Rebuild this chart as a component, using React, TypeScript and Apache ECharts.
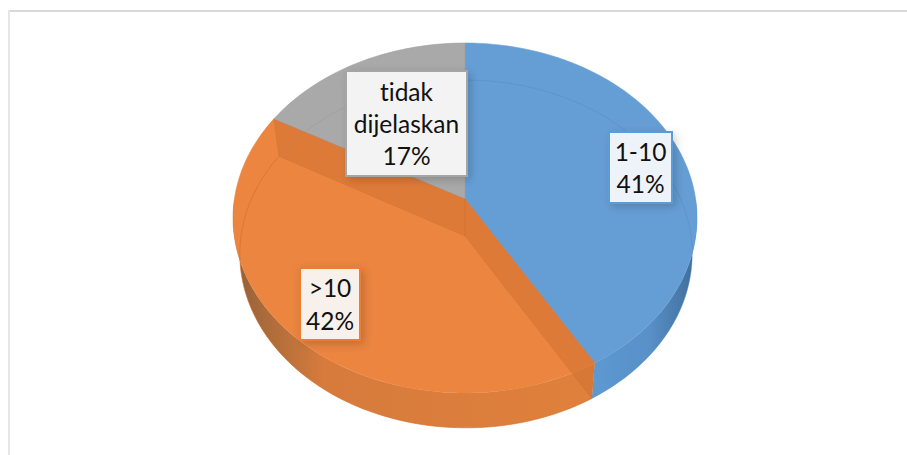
import React, { useEffect, useRef } from "react";
import * as echarts from "echarts";

const categories = ["1-10", ">10", "tidak dijelaskan"];
const sliceValues = [41.49, 41.61, 16.9];
const sliceColors = ["#659ED5", "#EB8540", "#A9A9A9"];
const labelLines = [["1-10"], [">10"], ["tidak", "dijelaskan"]];

const TOP = { cx: 465, cy: 199, rx: 230.6, ry: 172.9, k: 0.1086 };
const BOTTOM = { cx: 466, cy: 236, rx: 225, ry: 172, k: 0.1034 };
const LABEL_BOX = [
  { x: 609, y: 132, w: 63, h: 71, border: "#5B9BD5", fill: "#EEF3FA" },
  { x: 300, y: 268, w: 60, h: 72, border: "#ED7D31", fill: "#F8F0EB" },
  { x: 346, y: 71, w: 121, h: 105, border: "#A5A5A5", fill: "#F3F3F3" },
];
const LINE_H = 32.3;
const WALL_FILL = [
  [[0, "#5E99D2"], [0.55, "#5890C8"], [1, "#3F6C98"]],
  [[0, "#8F5E3A"], [0.08, "#A96A3A"], [0.25, "#D67B3C"], [1, "#E0803C"]],
  [[0, "#A5A5A5"], [1, "#A5A5A5"]],
];

type Face = typeof TOP;

// a point of the round face, angle clockwise from twelve o'clock, seen in perspective
function project(f: Face, deg: number, r = 1) {
  const a = (deg * Math.PI) / 180;
  const x = Math.sin(a) * r;
  const y = -Math.cos(a) * r;
  const w = 1 - f.k * y;
  return [f.cx + (f.rx * x) / w, f.cy + (f.ry * y) / w];
}
function arc(f: Face, from: number, to: number) {
  const n = Math.max(2, Math.ceil(Math.abs(to - from) / 2));
  const pts: number[][] = [];
  for (let i = 0; i <= n; i++) pts.push(project(f, from + ((to - from) * i) / n));
  return pts;
}

const total = sliceValues.reduce((a, b) => a + b, 0);
const spans = sliceValues.map((v, i) => {
  const start = sliceValues.slice(0, i).reduce((a, b) => a + b, 0);
  return [(start / total) * 360, ((start + v) / total) * 360];
});

function renderSlice(_params: any, api: any) {
  const i = api.value(2) as number;
  const [from, to] = spans[i];
  const color = sliceColors[i];
  const children: any[] = [];

  // outer wall, front half only
  const wFrom = Math.max(from, 90);
  const wTo = Math.min(to, 270);
  if (wTo > wFrom) {
    const pts = [...arc(TOP, wFrom, wTo), ...arc(BOTTOM, wFrom, wTo).reverse()];
    children.push({
      type: "polygon",
      z2: 1,
      shape: { points: pts },
      style: {
        fill: new echarts.graphic.LinearGradient(
          0,
          0,
          1,
          0,
          WALL_FILL[i].map(([offset, c]) => ({ offset, color: c }))
        ),
      },
    });
  }
  // top face
  children.push({
    type: "polygon",
    z2: 2,
    shape: { points: [[TOP.cx, TOP.cy], ...arc(TOP, from, to)] },
    style: { fill: color, stroke: i === 2 ? "#A0A0A0" : color, lineWidth: 0.6 },
  });
  // far rim and lower edge of the bottom face, seen through the top
  const rimColor = ["#4F86BC", "#CF6F2C", "#979797"][i];
  children.push({
    type: "polyline",
    z2: 3,
    shape: { points: arc(BOTTOM, from, to) },
    style: { fill: "none", stroke: rimColor, lineWidth: 0.8, opacity: i === 1 ? 0.8 : 0.5 },
  });
  // cut walls of the orange slice, seen through it
  if (i === 1) {
    [from, to].forEach((deg) => {
      const tp = project(TOP, deg);
      const bp = project(BOTTOM, deg);
      children.push({
        type: "polygon",
        z2: 4,
        shape: { points: [[TOP.cx, TOP.cy], tp, bp, [BOTTOM.cx - 1, BOTTOM.cy]] },
        style: { fill: "rgba(208,112,48,0.5)", stroke: "rgba(190,100,40,0.3)", lineWidth: 0.6 },
      });
    });
  }
  // label
  const box = LABEL_BOX[i];
  const lines = [...labelLines[i], `${Math.round((sliceValues[i] / total) * 100)}%`];
  children.push({
    type: "rect",
    z2: 20,
    shape: { x: box.x, y: box.y, width: box.w, height: box.h },
    style: {
      fill: box.fill,
      stroke: box.border,
      lineWidth: 2,
      shadowBlur: 9,
      shadowOffsetX: 3,
      shadowOffsetY: 3,
      shadowColor: "rgba(0,0,0,0.18)",
    },
  });
  const firstY = box.y + box.h / 2 - ((lines.length - 1) * LINE_H) / 2;
  lines.forEach((line, n) => {
    children.push({
      type: "text",
      z2: 21,
      style: {
        x: box.x + box.w / 2,
        y: firstY + n * LINE_H,
        text: line,
        align: "center",
        verticalAlign: "middle",
        fill: "#111111",
        fontSize: 24.5,
        fontFamily: "Lato",
      },
    });
  });
  return { type: "group", children };
}

export default function App() {
  const ref = useRef<HTMLDivElement>(null);
  useEffect(() => {
    const chart = echarts.init(ref.current!, undefined, { renderer: "svg" });
    chart.setOption({
      animation: false,
      backgroundColor: "#ffffff",
      graphic: [
        { type: "line", shape: { x1: 8, y1: 11, x2: 907, y2: 11 }, style: { stroke: "#D9D9D9", lineWidth: 2 } },
        { type: "line", shape: { x1: 9, y1: 10, x2: 9, y2: 455 }, style: { stroke: "#E6E6E6", lineWidth: 2 } },
      ],
      series: [
        {
          type: "custom",
          coordinateSystem: "none",
          renderItem: renderSlice,
          silent: true,
          data: categories.map((name, i) => ({ name, value: [sliceValues[i], 0, i] })),
        },
      ],
    });
    return () => chart.dispose();
  }, []);
  return (
    <div
      ref={ref}
      style={{ width: 907, height: 455, position: "absolute", left: 0, top: 0, fontVariantLigatures: "none" }}
    />
  );
}
